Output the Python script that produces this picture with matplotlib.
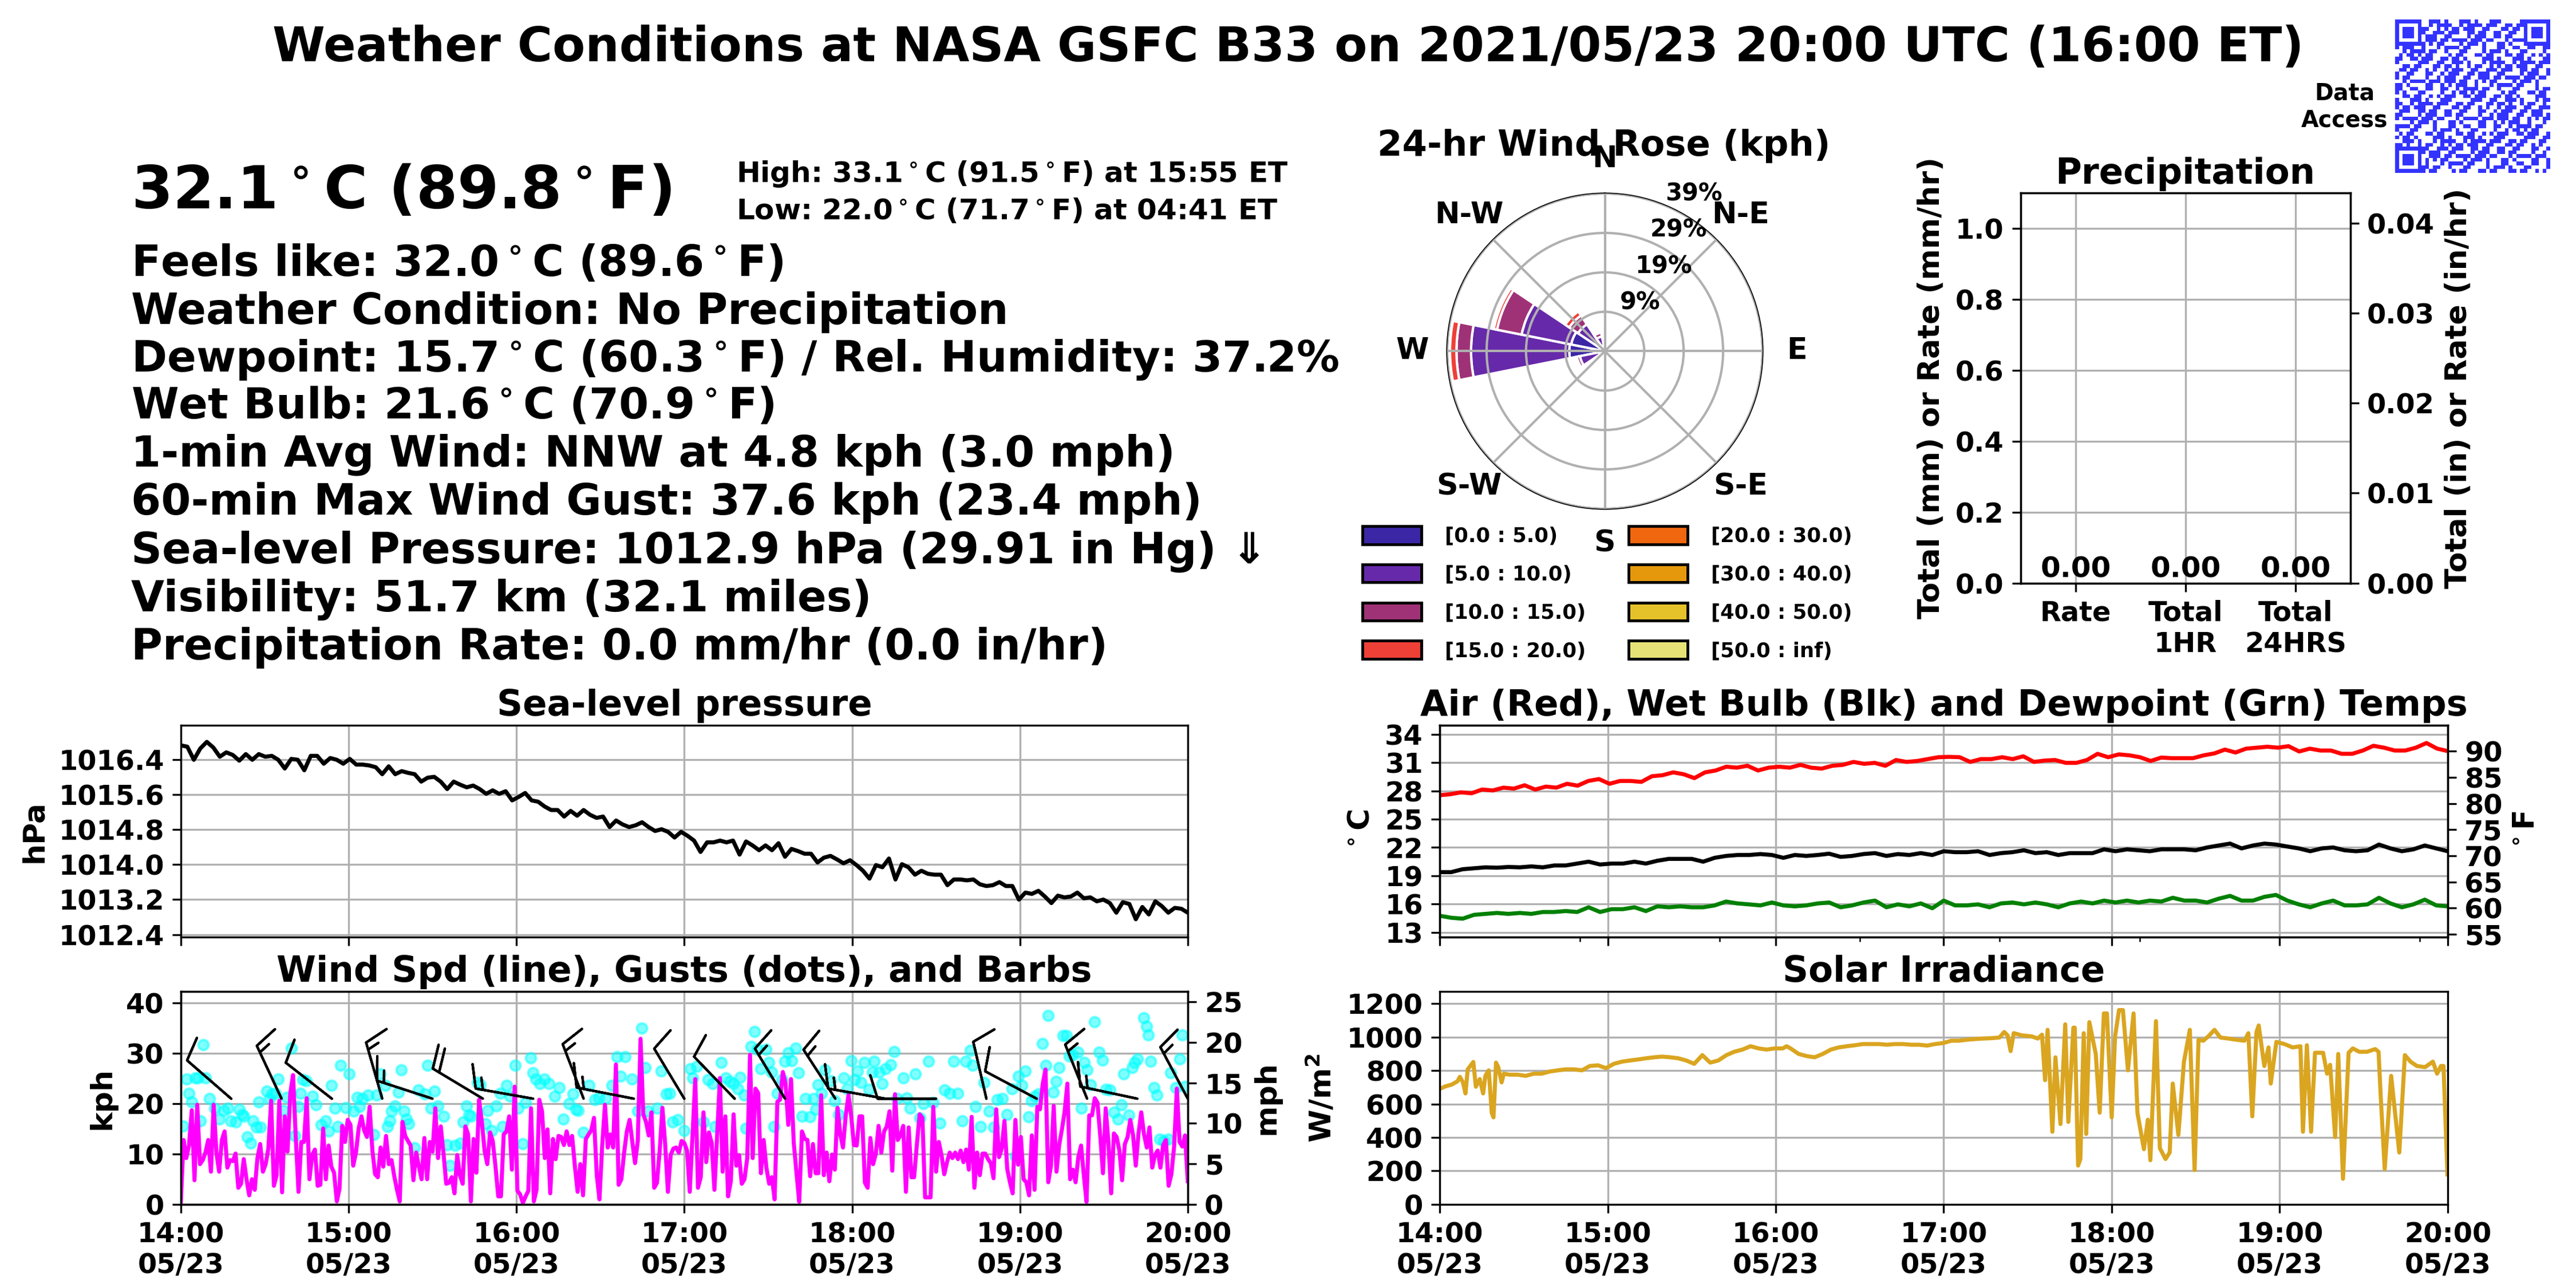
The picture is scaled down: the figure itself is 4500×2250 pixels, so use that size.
import numpy as np
import matplotlib
matplotlib.use('Agg')
import matplotlib.pyplot as plt
import matplotlib.dates as mdates
from matplotlib.patches import Patch
from matplotlib.colors import ListedColormap
from matplotlib.ticker import FormatStrFormatter

plt.rcParams['font.family'] = ['DejaVu Sans']
plt.rcParams['font.weight'] = 'bold'
plt.rcParams['axes.labelweight'] = 'bold'
plt.rcParams['axes.titleweight'] = 'bold'

# ------------------------------------------------------------------ data
title = 'Weather Conditions at NASA GSFC B33 on 2021/05/23 20:00 UTC (16:00 ET)'
big_line = '32.1$^\\circ$C (89.8$^\\circ$F)'
high_line = 'High: 33.1$^\\circ$C (91.5$^\\circ$F) at 15:55 ET'
low_line = 'Low: 22.0$^\\circ$C (71.7$^\\circ$F) at 04:41 ET'
info_lines = [
    'Feels like: 32.0$^\\circ$C (89.6$^\\circ$F)',
    'Weather Condition: No Precipitation',
    'Dewpoint: 15.7$^\\circ$C (60.3$^\\circ$F) / Rel. Humidity: 37.2%',
    'Wet Bulb: 21.6$^\\circ$C (70.9$^\\circ$F)',
    '1-min Avg Wind: NNW at 4.8 kph (3.0 mph)',
    '60-min Max Wind Gust: 37.6 kph (23.4 mph)',
    'Sea-level Pressure: 1012.9 hPa (29.91 in Hg) \u21d3',
    'Visibility: 51.7 km (32.1 miles)',
    'Precipitation Rate: 0.0 mm/hr (0.0 in/hr)',
]

hour_minutes = [0, 60, 120, 180, 240, 300, 360]

pressure_hpa = [1016.73, 1016.70, 1016.40, 1016.66, 1016.81, 1016.68, 1016.47, 1016.57, 1016.51, 1016.38,
                1016.53, 1016.40, 1016.53, 1016.47, 1016.49, 1016.40, 1016.20, 1016.42, 1016.40, 1016.16,
                1016.49, 1016.49, 1016.31, 1016.44, 1016.40, 1016.31, 1016.42, 1016.29, 1016.29, 1016.27,
                1016.23, 1016.07, 1016.25, 1016.07, 1016.14, 1016.10, 1016.07, 1015.90, 1015.99, 1016.01,
                1015.90, 1015.73, 1015.90, 1015.83, 1015.77, 1015.81, 1015.73, 1015.62, 1015.70, 1015.62,
                1015.68, 1015.47, 1015.55, 1015.64, 1015.47, 1015.44, 1015.33, 1015.25, 1015.25, 1015.10,
                1015.23, 1015.12, 1015.25, 1015.14, 1015.07, 1015.10, 1014.86, 1015.01, 1014.92, 1014.86,
                1014.90, 1014.97, 1014.86, 1014.77, 1014.81, 1014.75, 1014.62, 1014.75, 1014.66, 1014.55,
                1014.29, 1014.51, 1014.51, 1014.55, 1014.51, 1014.55, 1014.23, 1014.53, 1014.44, 1014.33,
                1014.44, 1014.33, 1014.49, 1014.18, 1014.36, 1014.31, 1014.25, 1014.25, 1014.05, 1014.16,
                1014.20, 1014.12, 1014.03, 1014.10, 1013.99, 1013.86, 1013.68, 1013.99, 1013.94, 1014.14,
                1013.66, 1014.01, 1013.94, 1013.77, 1013.86, 1013.79, 1013.77, 1013.77, 1013.53, 1013.66,
                1013.66, 1013.64, 1013.66, 1013.55, 1013.51, 1013.53, 1013.60, 1013.51, 1013.51, 1013.20,
                1013.36, 1013.33, 1013.40, 1013.27, 1013.12, 1013.29, 1013.25, 1013.27, 1013.36, 1013.23,
                1013.25, 1013.16, 1013.20, 1013.12, 1012.90, 1013.14, 1013.10, 1012.75, 1013.03, 1012.86,
                1013.16, 1013.05, 1012.90, 1013.01, 1012.99, 1012.90]
pressure_ticks = [1012.4, 1013.2, 1014.0, 1014.8, 1015.6, 1016.4]
pressure_ylim = (1012.34, 1017.19)

wind_kph = [0.5, 12.8, 9.2, 11.8, 18.7, 4.8, 19.8, 8.0, 8.8, 10.3, 12.8, 6.5, 19.8, 10.3, 6.5, 12.8, 14.5, 7.3,
            8.8, 8.6, 10.1, 3.3, 4.1, 9.0, 5.0, 1.8, 5.0, 2.9, 9.2, 12.0, 6.5, 8.0, 11.1, 20.6, 3.7, 5.8, 20.6,
            2.4, 17.5, 10.5, 22.1, 25.7, 13.4, 2.5, 12.4, 12.4, 21.1, 5.0, 9.8, 10.9, 3.7, 3.9, 15.1, 5.0, 11.7,
            7.5, 6.3, 0.6, 3.1, 15.6, 12.4, 16.8, 15.8, 7.7, 10.3, 15.1, 17.5, 14.7, 13.4, 19.4, 10.7, 6.0, 5.4,
            11.3, 7.5, 13.6, 8.0, 8.8, 5.6, 2.9, 0.6, 16.4, 13.6, 12.6, 11.7, 4.8, 10.3, 7.5, 5.0, 13.2, 5.0,
            12.4, 10.5, 19.1, 9.2, 15.5, 10.1, 4.1, 4.3, 5.4, 2.2, 9.8, 5.8, 4.1, 15.5, 13.9, 0.6, 13.0, 6.3,
            20.8, 16.4, 10.7, 8.0, 14.3, 12.6, 7.5, 1.6, 1.6, 13.9, 14.5, 17.5, 6.9, 23.4, 2.7, 2.0, 0.3, 1.6,
            2.7, 19.1, 0.6, 2.9, 20.8, 18.5, 9.2, 14.9, 2.2, 13.0, 9.0, 13.6, 13.4, 11.8, 14.5, 11.8, 13.6, 7.7,
            2.5, 8.0, 1.8, 13.0, 13.9, 14.7, 17.2, 5.8, 1.0, 11.8, 19.8, 11.3, 13.9, 11.3, 27.8, 3.9, 5.0, 10.3,
            14.5, 16.8, 12.4, 8.2, 12.6, 32.9, 17.9, 16.4, 13.7, 18.3, 3.3, 4.3, 10.7, 19.2, 12.0, 2.5, 9.8,
            11.1, 11.3, 10.3, 12.6, 12.2,
            10.7, 2.5, 13.7, 24.9, 3.3, 5.4, 18.3, 8.4, 14.3, 12.2, 2.9, 13.7, 25.1, 6.5, 17.5, 1.6, 4.6, 17.9,
            7.7, 9.8, 4.1, 5.0, 9.2, 29.7, 9.2, 23.0, 22.1, 6.2, 12.8, 7.3, 4.1, 5.4, 1.0, 20.4, 20.8, 26.3,
            24.0, 15.8, 24.9, 12.2, 6.2, 0.5, 14.5, 13.0, 12.8, 5.6, 12.0, 6.2, 6.2, 21.7, 5.8, 10.3, 4.6, 9.9,
            6.9, 19.2, 13.9, 11.3, 17.7, 21.7, 17.5, 11.8, 11.7, 17.5, 17.5, 4.3, 3.3, 13.2, 8.0, 10.1, 15.6,
            10.3, 14.5, 15.5, 18.5, 6.7, 21.9, 12.8, 13.7, 15.6, 2.5, 15.3, 5.4, 5.4, 12.0, 17.9, 17.2, 1.4,
            1.4, 1.4, 19.4, 6.5, 12.4, 9.8, 6.0, 8.4, 10.3, 9.2, 10.3, 9.0, 10.7, 8.4, 10.9, 6.9, 17.4, 3.3,
            10.3, 5.8, 10.1, 10.1, 9.0, 8.2, 5.2, 18.9, 9.4, 11.1, 16.6, 7.1, 4.4, 2.2, 16.8, 7.9, 13.4, 5.0,
            4.4, 1.8, 13.7, 2.9, 19.4, 18.9, 24.0, 26.8, 4.4, 7.7, 19.6, 6.5, 11.8, 14.9, 18.5, 24.0, 5.0, 6.9,
            4.4, 9.4, 11.7, 5.8, 0.5, 17.7, 17.7, 21.1, 20.2, 13.6, 6.2, 19.1, 12.2, 2.2, 14.1, 13.4, 10.7, 4.8,
            12.0, 13.4, 16.8, 13.7, 7.7, 14.1, 18.3, 13.9, 11.3, 15.3, 7.3, 9.8, 10.7, 7.3, 11.8, 12.8, 3.7,
            6.0, 11.5, 23.0, 12.4, 11.5, 13.7, 4.6]

gust_minutes = [0.8, 2.0, 2.8, 4.0, 5.2, 6.1, 7.0, 7.9, 8.9, 10.2, 12.0, 13.7, 15.3, 16.7, 17.9, 19.6, 20.8,
                22.0, 22.6, 23.7, 24.9, 25.8, 27.0, 27.8, 28.4, 30.8, 31.7, 32.5, 33.7, 34.9, 36.6, 37.8,
                39.6, 40.8, 41.9, 42.8, 43.7, 44.9, 47.0, 48.4, 50.2, 51.7, 52.9, 53.9, 55.0, 56.0, 57.2,
                59.0, 60.1, 61.9, 63.1, 63.9, 64.8, 67.0, 69.0, 70.1, 71.3, 73.1, 74.0, 74.8, 75.4, 76.6,
                77.8, 78.9, 79.9, 80.7, 81.5, 83.6, 85.0, 87.2, 88.3, 89.5, 90.7, 91.9, 94.0, 95.1, 96.3,
                98.0, 99.8, 101.0, 102.1, 103.0, 103.8, 106.0, 107.1, 108.9, 109.7, 111.2, 112.8, 114.2,
                115.1, 116.5, 117.7, 119.5, 120.6, 122.2, 123.3, 125.0, 125.9, 126.9, 128.3, 130.0, 131.6,
                133.6, 135.3, 136.7, 138.8, 140.3, 141.2, 142.1, 143.9, 145.9, 148.0, 149.4, 151.8, 154.1,
                155.9, 157.1, 158.8, 161.2, 163.3, 164.7, 165.9, 167.0, 170.3, 171.7, 173.5, 174.7, 175.8,
                177.6, 180.0,
                182.1, 183.0, 184.4, 186.8, 188.5, 190.1, 190.9, 193.2, 194.8, 196.2, 197.6, 199.1, 199.9,
                201.5, 202.0, 203.8, 205.0, 206.2, 207.3, 209.1, 210.3, 211.2, 212.0, 213.2, 215.0, 215.9,
                217.1, 218.3, 219.9, 220.8, 222.0, 223.2, 224.9, 226.1, 226.9, 227.9, 229.1, 230.2, 232.3,
                233.8, 235.2, 237.0, 238.2, 239.6, 240.8, 242.0, 243.2, 244.3, 246.1, 247.3, 247.9, 249.6,
                250.8, 252.0, 253.7, 255.1, 256.1, 258.2, 259.6, 260.8, 262.5, 264.3, 265.5, 267.2, 269.0,
                271.3, 273.1, 274.9, 276.3, 277.8, 279.3, 280.7, 282.2, 283.1, 284.0, 286.0, 287.2, 289.0,
                290.7, 291.9, 293.7, 295.4, 297.2, 298.4, 299.5, 300.7, 301.9, 303.1, 304.2, 305.4, 306.6,
                308.0, 309.2, 310.1, 311.9, 313.0, 313.9, 315.4, 316.6, 317.7, 318.9, 320.7, 321.9, 323.0,
                324.0, 325.2, 326.6, 328.3, 329.5, 330.7, 332.2, 333.6, 335.0, 336.2, 337.1, 338.9, 340.1,
                340.9, 342.1, 344.2, 345.3, 345.9, 346.8, 347.9, 348.9, 350.0, 351.5, 353.0, 353.8, 355.7,
                357.1, 358.0, 358.9]
gust_kph = [15.6, 24.9, 22.1, 20.4, 25.1, 25.1, 16.6, 31.7, 25.1, 21.0, 19.1, 17.0, 18.7, 19.1, 16.6, 16.4, 18.9,
            17.9, 17.5, 13.4, 12.2, 16.6, 15.3, 20.4, 15.3, 22.5, 21.0, 21.9, 22.1, 24.9, 18.7, 21.3, 31.0,
            13.7, 19.4, 22.1, 24.8, 24.6, 21.5, 19.8, 15.8, 16.6, 14.5, 23.6, 19.1, 15.5, 27.6, 19.2, 25.9,
            18.5, 21.3, 19.4, 21.0, 21.7, 13.9, 21.7, 25.9, 23.6, 15.5, 16.6, 18.5, 19.6, 22.3, 26.7, 18.5,
            17.0, 16.0, 11.3, 22.7, 21.9, 27.6, 19.1, 22.5, 19.6, 17.5, 11.8, 7.7, 11.7, 12.2, 16.4, 19.6,
            17.7, 17.5, 24.2, 23.8, 16.0, 18.7, 14.7, 19.6, 22.1, 15.5, 23.6, 21.5, 27.6, 19.1, 12.0, 20.2,
            29.1, 26.1, 24.9, 24.0, 24.9, 24.0, 21.5, 23.2, 17.0, 20.0, 21.9, 18.9, 18.7, 14.3, 23.6, 20.8,
            21.1, 21.0, 23.6, 29.3, 25.5, 29.3, 24.9, 18.5, 35.0, 27.2, 18.5, 19.1, 26.5, 21.9, 22.1, 16.4,
            16.8, 14.7,
            27.0, 25.1, 27.4, 16.4, 24.8, 24.0, 15.5, 28.2, 25.1, 24.4, 24.0, 23.0, 25.3, 21.7, 15.1, 31.4,
            34.4, 30.8, 27.0, 30.8, 28.2, 26.3, 15.5, 22.1, 24.8, 28.4, 30.1, 28.5, 31.0, 26.1, 17.5, 21.0,
            17.4, 21.0, 18.9, 23.8, 22.1, 26.7, 24.6, 20.6, 17.9, 25.1, 23.0, 28.5, 24.8, 26.5, 24.2, 28.2,
            22.9, 26.3, 28.4, 26.3, 24.0, 27.0, 27.8, 30.4, 21.0, 25.1, 21.1, 19.1, 25.9, 17.2, 20.0, 28.4,
            20.2, 16.2, 22.7, 22.1, 28.4, 22.1, 16.6, 28.4, 30.6, 27.6, 19.4, 15.5, 24.2, 18.5, 15.3, 20.8,
            21.0, 17.9, 23.0, 9.6, 25.5, 23.6, 26.5, 17.4, 20.6, 21.5, 21.9, 32.0, 27.6, 37.5, 22.3, 24.4,
            27.2, 33.5, 33.5, 29.5, 29.7, 30.3, 19.1, 28.2, 26.7, 23.8, 36.3, 30.3, 28.7, 22.9, 22.7, 18.3,
            17.0, 19.8, 25.9, 17.7, 27.2, 28.2, 28.9, 37.1, 35.4, 33.7, 28.4, 23.2, 21.7, 13.0, 12.6, 13.0,
            26.1, 23.2, 28.9, 33.7, 23.4]

barb_minutes = [18, 36, 54, 72, 90, 108, 126, 144, 162, 180, 198, 216, 234, 252, 270, 288, 306, 324, 342, 360]
barb_dir_deg = [311, 335, 308, 344, 288, 301, 280, 339, 281, 329, 316, 329, 327, 280, 270, 347, 298, 338, 282, 332]
barb_speed_kph = [10, 15, 10, 15, 15, 20, 15, 15, 15, 10, 10, 15, 15, 15, 10, 10, 10, 15, 15, 15]
barb_level_kph = 21
wind_ylim_kph = 42.3

air_c = [27.55, 27.65, 27.85, 27.75, 28.15, 28.05, 28.35, 28.25, 28.60, 28.15, 28.46, 28.35, 28.76, 28.56,
         29.06, 29.26, 28.76, 29.06, 29.06, 28.96, 29.56, 29.67, 29.97, 29.77, 29.36, 29.97, 30.17, 30.57,
         30.47, 30.67, 30.17, 30.47, 30.57, 30.47, 30.77, 30.47, 30.37, 30.67, 30.77, 31.08, 30.88, 30.98,
         30.67, 31.28, 31.08, 31.18, 31.38, 31.58, 31.62, 31.58, 31.08, 31.38, 31.38, 31.58, 31.38, 31.68,
         31.08, 31.22, 31.28, 30.98, 30.98, 31.28, 31.94, 31.58, 31.88, 31.78, 31.58, 31.18, 31.54, 31.48,
         31.48, 31.48, 31.78, 31.98, 32.39, 32.08, 32.49, 32.59, 32.69, 32.59, 32.75, 32.19, 32.49, 32.29,
         32.29, 31.94, 31.94, 32.29, 32.79, 32.59, 32.29, 32.29, 32.59, 33.09, 32.49, 32.23]
wetbulb_c = [19.38, 19.38, 19.69, 19.79, 19.89, 19.85, 19.93, 19.89, 19.99, 19.89, 20.09, 20.09, 20.29, 20.49,
             20.19, 20.29, 20.29, 20.49, 20.29, 20.59, 20.79, 20.79, 20.79, 20.49, 20.90, 21.10, 21.20, 21.20,
             21.30, 21.20, 20.90, 21.20, 21.10, 21.20, 21.34, 21.00, 21.10, 21.30, 21.40, 21.10, 21.30, 21.20,
             21.40, 21.20, 21.60, 21.50, 21.50, 21.60, 21.20, 21.40, 21.50, 21.70, 21.40, 21.50, 21.20, 21.40,
             21.40, 21.40, 21.80, 21.60, 21.80, 21.70, 21.60, 21.80, 21.80, 21.80, 21.70, 22.00, 22.21, 22.41,
             21.90, 22.21, 22.41, 22.31, 22.10, 21.90, 21.60, 21.90, 22.00, 21.70, 21.60, 21.70, 22.31, 21.90,
             21.60, 21.80, 22.21, 21.90, 21.60]
dewpoint_c = [14.75, 14.54, 14.44, 14.85, 14.95, 15.05, 14.95, 15.05, 14.95, 15.15, 15.15, 15.25, 15.15, 15.65,
              15.15, 15.45, 15.45, 15.65, 15.25, 15.75, 15.65, 15.75, 15.65, 15.65, 15.85, 16.26, 16.06, 15.96,
              15.85, 16.16, 15.85, 15.75, 15.85, 16.06, 16.16, 15.65, 15.85, 16.16, 16.36, 15.65, 15.96, 15.75,
              16.06, 15.55, 16.36, 15.85, 15.85, 15.96, 15.65, 16.06, 16.16, 15.96, 16.16, 15.96, 15.65, 16.06,
              16.26, 16.06, 16.36, 16.16, 16.36, 16.16, 16.36, 16.26, 16.66, 16.36, 16.36, 16.16, 16.56, 16.86,
              16.36, 16.36, 16.76, 16.96, 16.36, 15.96, 15.65, 16.06, 16.36, 15.85, 15.85, 15.96, 16.66, 16.06,
              15.65, 15.96, 16.46, 15.85, 15.75]
temp_ticks_c = [13, 16, 19, 22, 25, 28, 31, 34]
temp_ticks_f = [55, 60, 65, 70, 75, 80, 85, 90]
temp_ylim_c = (12.48, 34.97)

solar_minutes = [0, 2.0, 4.3, 6.3, 7.2, 8.3, 9.2, 10.0, 12.0, 12.9, 14.3, 15.5, 16.3, 17.5, 18.6, 19.2, 20.1,
                 20.9, 22.1, 22.9, 24.9, 27.8, 30.7, 33.6, 36.4, 39.3, 42.2, 45.0, 47.9, 50.8, 53.6, 56.5, 59.4,
                 62.2, 65.1, 68.0, 70.8, 73.7, 76.6, 79.4, 82.3, 85.2, 88.0, 90.9, 93.8, 96.6, 99.5, 102.4,
                 105.2, 108.1, 111.0, 113.9, 116.7, 119.6, 122.5, 123.9, 125.3, 128.2, 131.1, 133.9, 136.8,
                 139.7, 142.5, 145.4, 148.3, 151.1, 154.0, 156.9, 159.7, 162.6, 165.5, 168.3, 171.2, 174.1,
                 176.9, 179.8, 182.7, 185.5, 188.4, 191.3, 194.1, 197.0, 199.9, 201.6, 202.8, 203.9, 205.0,
                 207.9, 211.4, 213.6, 215.1, 216.2, 217.1, 218.8, 219.9, 221.7, 223.4, 224.5, 226.3, 226.8,
                 228.0, 228.8, 230.0, 230.9, 232.0, 234.3, 235.7, 237.2, 238.3, 240.0, 241.2, 242.6, 244.0,
                 245.8, 247.8, 249.2, 251.5, 252.9, 253.8, 255.8, 257.2, 259.2, 260.7, 261.8, 263.8, 265.8,
                 267.9, 269.6, 271.0, 272.7, 274.5, 276.7, 278.8, 281.6, 284.5, 287.4, 288.8, 290.2, 291.7,
                 292.5, 294.5, 296.0, 296.8, 298.8, 301.7, 304.6, 307.4, 308.3, 309.7, 311.2, 312.6, 314.0,
                 315.5, 316.9, 318.0, 319.8, 320.9, 322.6, 324.6, 326.1, 328.4, 331.2, 334.1, 335.3, 336.1,
                 337.5, 339.8, 342.7, 344.7, 346.7, 349.0, 351.9, 354.7, 356.2, 357.6, 358.5, 359.9]
solar_wm2 = [690, 705, 716, 735, 762, 729, 663, 807, 851, 703, 749, 663, 768, 801, 546, 520, 847, 820, 729, 781,
             775, 775, 768, 781, 781, 794, 801, 807, 807, 801, 827, 831, 814, 840, 853, 860, 866, 873, 879, 883,
             879, 873, 860, 840, 892, 847, 860, 892, 912, 925, 945, 932, 925, 932, 932, 945, 932, 899, 886, 879,
             899, 925, 938, 945, 951, 958, 958, 958, 954, 958, 958, 954, 954, 949, 958, 964, 978, 978, 984, 988,
             991, 993, 997, 1030, 1010, 916, 1023, 1010, 1004, 991, 1014, 742, 1043, 434, 879, 480, 1076, 493,
             1056, 1056, 232, 271, 1023, 421, 1089, 899, 548, 1141, 1141, 520, 1004, 1161, 1161, 801, 1141, 546,
             330, 506, 264, 1095, 336, 271, 310, 722, 415, 853, 1043, 205, 984, 978, 1004, 1043, 997, 991, 984,
             978, 1023, 526, 1030, 1069, 827, 938, 722, 971, 958, 938, 945, 434, 951, 434, 906, 906, 906, 781,
             834, 402, 899, 153, 906, 932, 912, 912, 928, 912, 637, 212, 768, 310, 892, 853, 827, 820, 853, 781,
             827, 827, 179]
solar_ticks = [0, 200, 400, 600, 800, 1000, 1200]
solar_ylim = (0, 1272)

rose_dirs_deg = [247.5, 270.0, 292.5, 315.0, 337.5]
rose_pct = [
    [1.5, 8.8, 8.5, 2.0, 1.5],    # [0.0 : 5.0)
    [4.8, 24.3, 12.5, 6.0, 2.2],  # [5.0 : 10.0)
    [0.8, 3.6, 6.2, 2.6, 1.0],    # [10.0 : 15.0)
    [0.0, 1.6, 0.8, 1.2, 0.5],    # [15.0 : 20.0)
    [0.0, 0.0, 0.0, 0.0, 0.0],
    [0.0, 0.0, 0.0, 0.0, 0.0],
    [0.0, 0.0, 0.0, 0.0, 0.0],
    [0.0, 0.0, 0.0, 0.0, 0.0],
]
rose_labels = ['[0.0 : 5.0)', '[5.0 : 10.0)', '[10.0 : 15.0)', '[15.0 : 20.0)',
               '[20.0 : 30.0)', '[30.0 : 40.0)', '[40.0 : 50.0)', '[50.0 : inf)']
rose_colors = ['#3b26a6', '#6629aa', '#9f3276', '#ee4036', '#f0670f', '#e5980b', '#e5c22a', '#e6e276']
rose_rticks = [9.75, 19.5, 29.25, 39.0]
rose_rlabels = ['9%', '19%', '29%', '39%']
compass_angles = [0, 45, 90, 135, 180, 225, 270, 315]
compass_labels = ['N', 'N-E', 'E', 'S-E', 'S', 'S-W', 'W', 'N-W']

precip_labels = ['Rate', 'Total\n1HR', 'Total\n24HRS']
precip_mm = [0.0, 0.0, 0.0]
precip_ticks_mm = [0.0, 0.2, 0.4, 0.6, 0.8, 1.0]
precip_ticks_in = [0.0, 0.01, 0.02, 0.03, 0.04]

qr_source = 'https://science.gsfc.nasa.gov/weather/b33/data-access'

# ------------------------------------------------------------------ helpers
start = np.datetime64('2021-05-23T14:00')


def tnum(minutes):
    secs = np.round(np.asarray(minutes, dtype=float) * 60).astype('timedelta64[s]')
    return mdates.date2num(start + secs)


def even_minutes(values):
    return np.linspace(0, 360, len(values))


def c2f(c):
    return np.asarray(c) * 9 / 5 + 32


def time_axis(ax, show_labels):
    ax.set_xlim(tnum(0), tnum(360))
    ax.set_xticks(tnum(hour_minutes))
    ax.xaxis.set_major_formatter(mdates.DateFormatter('%H:%M\n%m/%d'))
    ax.tick_params(labelsize=11.5, labelbottom=show_labels)
    ax.grid(True, color='#b0b0b0', linewidth=0.8)


# ------------------------------------------------------------------ figure
fig = plt.figure(figsize=(15, 7.5), dpi=300)

fig.text(0.5, 0.9524, title, ha='center', va='baseline', fontsize=20)
fig.text(0.051, 0.8384, big_line, ha='left', va='baseline', fontsize=25)
fig.text(0.2858, 0.8588, high_line, ha='left', va='baseline', fontsize=12)
fig.text(0.2858, 0.8299, low_line, ha='left', va='baseline', fontsize=12)
line_y = [0.7858, 0.7484, 0.7116, 0.6751, 0.6378, 0.6004, 0.5631, 0.5255, 0.4880]
for yy, txt in zip(line_y, info_lines):
    fig.text(0.051, yy, txt, ha='left', va='baseline', fontsize=18)

# sea-level pressure
ax_p = fig.add_axes([0.0702, 0.2724, 0.3909, 0.1645])
ax_p.plot(tnum(even_minutes(pressure_hpa)), pressure_hpa, color='black', linewidth=1.7)
ax_p.set_ylim(*pressure_ylim)
ax_p.set_yticks(pressure_ticks)
ax_p.yaxis.set_major_formatter(FormatStrFormatter('%.1f'))
time_axis(ax_p, False)
ax_p.set_ylabel('hPa', fontsize=12.5)
ax_p.set_title('Sea-level pressure', fontsize=15, pad=4)

# wind
ax_w = fig.add_axes([0.0702, 0.0649, 0.3909, 0.1653])
ax_w.plot(tnum(even_minutes(wind_kph)), wind_kph, color='magenta', linewidth=1.7, zorder=3)
ax_w.plot(tnum(gust_minutes), gust_kph, 'o', color='cyan', alpha=0.5, markersize=4.3,
          markeredgewidth=1.0, zorder=2)
bd = np.deg2rad(barb_dir_deg)
bs = np.asarray(barb_speed_kph, dtype=float)
ax_w.barbs(tnum(barb_minutes), np.full(len(barb_minutes), barb_level_kph),
           -bs * np.sin(bd), -bs * np.cos(bd), length=7, color='black', linewidth=1.0, zorder=4)
ax_w.set_ylim(0, wind_ylim_kph)
ax_w.set_yticks([0, 10, 20, 30, 40])
time_axis(ax_w, True)
ax_w.set_ylabel('kph', fontsize=12.5)
ax_w.set_title('Wind Spd (line), Gusts (dots), and Barbs', fontsize=15, pad=4)
ax_w2 = ax_w.twinx()
ax_w2.set_ylim(0, wind_ylim_kph / 1.60934)
ax_w2.set_yticks([0, 5, 10, 15, 20, 25])
ax_w2.tick_params(labelsize=11.5)
ax_w2.set_ylabel('mph', fontsize=12.5)

# temperatures
ax_t = fig.add_axes([0.5589, 0.2724, 0.3913, 0.1645])
ax_t.plot(tnum(even_minutes(air_c)), air_c, color='red', linewidth=1.7)
ax_t.plot(tnum(even_minutes(wetbulb_c)), wetbulb_c, color='black', linewidth=1.7)
ax_t.plot(tnum(even_minutes(dewpoint_c)), dewpoint_c, color='green', linewidth=1.7)
ax_t.set_ylim(*temp_ylim_c)
ax_t.set_yticks(temp_ticks_c)
time_axis(ax_t, False)
ax_t.set_xticks(tnum([50, 100, 150, 200, 250, 300, 350]), minor=True)
ax_t.tick_params(which='minor', length=2)
ax_t.set_ylabel('$^\\circ$C', fontsize=12.5)
ax_t.set_title('Air (Red), Wet Bulb (Blk) and Dewpoint (Grn) Temps', fontsize=15, pad=4)
ax_t2 = ax_t.twinx()
ax_t2.set_ylim(*c2f(temp_ylim_c))
ax_t2.set_yticks(temp_ticks_f)
ax_t2.tick_params(labelsize=11.5)
ax_t2.set_ylabel('$^\\circ$F', fontsize=12.5)

# solar
ax_s = fig.add_axes([0.5589, 0.0649, 0.3913, 0.1653])
ax_s.plot(tnum(solar_minutes), solar_wm2, color='goldenrod', linewidth=1.7)
ax_s.set_ylim(*solar_ylim)
ax_s.set_yticks(solar_ticks)
time_axis(ax_s, True)
ax_s.set_ylabel('W/m$^2$', fontsize=12.5)
ax_s.set_title('Solar Irradiance', fontsize=15, pad=4)

# precipitation
ax_pr = fig.add_axes([0.7844, 0.5473, 0.128, 0.3027])
xp = np.arange(len(precip_labels))
ax_pr.bar(xp, precip_mm, width=0.5, color='blue')
for x0, v in zip(xp, precip_mm):
    ax_pr.text(x0, v, f'{v:.2f}', ha='center', va='bottom', fontsize=12)
ax_pr.set_xticks(xp)
ax_pr.set_xticklabels(precip_labels)
ax_pr.set_xlim(-0.5, len(precip_labels) - 0.5)
ax_pr.set_ylim(0, 1.1)
ax_pr.set_yticks(precip_ticks_mm)
ax_pr.yaxis.set_major_formatter(FormatStrFormatter('%.1f'))
ax_pr.tick_params(labelsize=11.5)
ax_pr.grid(True, color='#b0b0b0', linewidth=0.8)
ax_pr.set_axisbelow(True)
ax_pr.set_ylabel('Total (mm) or Rate (mm/hr)', fontsize=12.5)
ax_pr.set_title('Precipitation', fontsize=15, pad=4)
ax_pr2 = ax_pr.twinx()
ax_pr2.set_ylim(0, 1.1 / 25.4)
ax_pr2.set_yticks(precip_ticks_in)
ax_pr2.yaxis.set_major_formatter(FormatStrFormatter('%.2f'))
ax_pr2.tick_params(labelsize=11.5)
ax_pr2.set_ylabel('Total (in) or Rate (in/hr)', fontsize=12.5)

# wind rose
ax_r = fig.add_axes([0.5618, 0.6049, 0.1224, 0.2449], projection='polar')
ax_r.set_theta_zero_location('N')
ax_r.set_theta_direction(-1)
theta = np.deg2rad(rose_dirs_deg)
base = np.zeros(len(rose_dirs_deg))
for vals, col in zip(rose_pct, rose_colors):
    vals = np.asarray(vals)
    if vals.sum() > 0:
        ax_r.bar(theta, vals, width=np.deg2rad(22.5), bottom=base, color=col,
                 edgecolor='white', linewidth=1.0, zorder=2)
    base = base + vals
ax_r.set_ylim(0, rose_rticks[-1])
ax_r.set_thetagrids(compass_angles, compass_labels, fontsize=12.5)
ax_r.set_yticks(rose_rticks)
ax_r.set_yticklabels([])
for r, lab in zip(rose_rticks, rose_rlabels):
    ax_r.text(np.deg2rad(22.5), r, lab, ha='left', va='bottom', fontsize=10, zorder=5)
ax_r.grid(True, color='#b0b0b0', linewidth=1.0)
ax_r.set_axisbelow(False)
ax_r.tick_params(axis='x', pad=4)
fig.text(0.6227, 0.8789, '24-hr Wind Rose (kph)', ha='center', va='baseline', fontsize=15)

handles = [Patch(facecolor=c, edgecolor='black', linewidth=1.2, label=l)
           for c, l in zip(rose_colors, rose_labels)]
fig.legend(handles=handles, loc='upper left', bbox_to_anchor=(0.5289, 0.5916), ncol=2,
           frameon=False, fontsize=8.5, handlelength=2.9, handleheight=1.0, handletextpad=1.17,
           columnspacing=2.1, labelspacing=0.9, borderpad=0, borderaxespad=0)

# data-access QR block
n_mod = 41
raw = np.frombuffer((qr_source * 40).encode(), dtype=np.uint8)
qr = np.unpackbits(raw)[:n_mod * n_mod].reshape(n_mod, n_mod).astype(float)
for r0, c0 in [(0, 0), (0, n_mod - 7), (n_mod - 7, 0)]:
    qr[r0:r0 + 7, c0:c0 + 7] = 1
    qr[r0 + 1:r0 + 6, c0 + 1:c0 + 6] = 0
    qr[r0 + 2:r0 + 5, c0 + 2:c0 + 5] = 1
ax_q = fig.add_axes([0.9298, 0.8658, 0.06, 0.1191])
ax_q.imshow(qr, cmap=ListedColormap(['white', '#3333ff']), interpolation='nearest', aspect='auto')
ax_q.axis('off')
fig.text(0.9102, 0.9169, 'Data\nAccess', ha='center', va='center', fontsize=9.5, multialignment='center')

fig.savefig('out.png', dpi=300)
